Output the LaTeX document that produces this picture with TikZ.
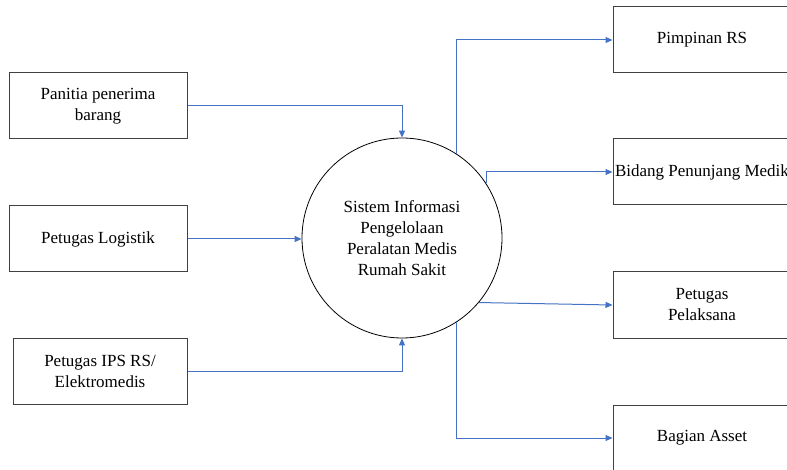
\documentclass[tikz,border=0pt]{standalone}
\usepackage{fontspec}
\setmainfont{Liberation Serif}
\newfontfamily\diagramfont{Liberation Serif}
\usepackage{xcolor}
\usetikzlibrary{arrows.meta}
\definecolor{flowblue}{RGB}{68,114,196}
\definecolor{boxgray}{RGB}{64,64,64}

\begin{document}
\begin{tikzpicture}[x=1pt, y=-1pt,
  every node/.style={font=\diagramfont\fontsize{17}{21}\selectfont, align=center},
  entity/.style={draw=boxgray, line width=1pt, minimum width=178pt, minimum height=66pt, inner sep=0pt},
  process/.style={draw=black, circle, line width=0.8pt, minimum size=200pt, inner sep=0pt},
  flow/.style={draw=flowblue, line width=1pt, -{Triangle[length=7pt, width=6pt]}}
]
\useasboundingbox (0,0) rectangle (787,470);
\clip (0,0) rectangle (787,470);
\node[process] (sim) at (402,238) {Sistem Informasi\\Pengelolaan\\Peralatan Medis\\Rumah Sakit};

\node[entity] (panitia) at (98,106) {Panitia penerima\\barang};
\node[entity] (logistik) at (98,239) {Petugas Logistik};
\node[entity, minimum width=174pt] (ips) at (100,371) {Petugas IPS RS/\\Elektromedis};

\node[entity] (pimpinan) at (702,40) {Pimpinan RS};
\node[entity] (bidang) at (702,172) {Bidang Penunjang Medik};
\node[entity] (pelaksana) at (702,305) {Petugas\\Pelaksana};
\node[entity] (asset) at (702,438) {Bagian Asset};

\draw[flow] (panitia.east) -| (sim.north);
\draw[flow] (logistik.east) -- (logistik.east -| sim.west);
\draw[flow] (ips.east) -| (sim.south);

\draw[flow] (sim.57) |- (pimpinan.west);
\draw[flow] (sim.33.5) |- (bidang.west);
\draw[flow] (sim.-40.5) -- (pelaksana.west);
\draw[flow] (sim.-57) |- (asset.west);
\end{tikzpicture}
\end{document}
